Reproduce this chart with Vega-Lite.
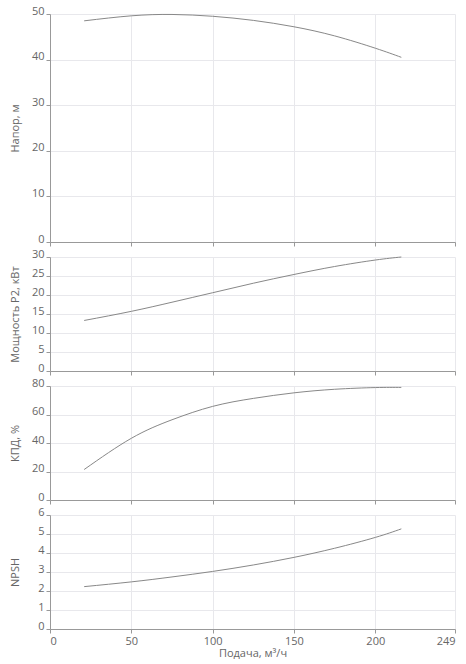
{
  "$schema": "https://vega.github.io/schema/vega-lite/v6.json",
  "padding": {"left": 8, "top": 5, "right": 8, "bottom": 5},
  "bounds": "flush",
  "spacing": 15,
  "data": {"values": [
    {"Q": 21, "H": 48.5, "P": 13.3, "eff": 21.4, "npsh": 2.23},
    {"Q": 50, "H": 49.6, "P": 15.7, "eff": 43.3, "npsh": 2.48},
    {"Q": 75, "H": 49.9, "P": 18.1, "eff": 56.3, "npsh": 2.74},
    {"Q": 100, "H": 49.5, "P": 20.6, "eff": 65.7, "npsh": 3.03},
    {"Q": 125, "H": 48.6, "P": 23.1, "eff": 71.3, "npsh": 3.37},
    {"Q": 150, "H": 47.2, "P": 25.4, "eff": 75.2, "npsh": 3.77},
    {"Q": 175, "H": 45.2, "P": 27.5, "eff": 77.7, "npsh": 4.25},
    {"Q": 200, "H": 42.5, "P": 29.2, "eff": 78.9, "npsh": 4.82},
    {"Q": 216, "H": 40.5, "P": 30.0, "eff": 79.0, "npsh": 5.27}
  ]},
  "config": {
    "view": {"stroke": null},
    "axis": {
      "labelFont": "Open Sans", "titleFont": "Open Sans",
      "labelFontSize": 11, "titleFontSize": 11,
      "labelColor": "#666666", "titleColor": "#666666",
      "titleFontWeight": "normal",
      "domainColor": "#999999", "tickColor": "#999999",
      "gridColor": "#e8e8ec", "tickSize": 4, "labelPadding": 2
    },
    "axisY": {"labelBaseline": "alphabetic", "titleX": -30}
  },
  "vconcat": [
    {
      "width": 405,
      "height": 228,
      "mark": {"type": "line", "interpolate": "natural", "color": "#888888", "strokeWidth": 1},
      "encoding": {
        "x": {"field": "Q", "type": "quantitative", "scale": {"domain": [0, 249], "nice": false},
              "axis": {"values": [0, 50, 100, 150, 200, 249], "labels": false, "title": null}},
        "y": {"field": "H", "type": "quantitative", "scale": {"domain": [0, 50], "nice": false},
              "axis": {"values": [0, 10, 20, 30, 40, 50], "title": "Напор, м"}}
      }
    },
    {
      "width": 405,
      "height": 114,
      "mark": {"type": "line", "interpolate": "natural", "color": "#888888", "strokeWidth": 1},
      "encoding": {
        "x": {"field": "Q", "type": "quantitative", "scale": {"domain": [0, 249], "nice": false},
              "axis": {"values": [0, 50, 100, 150, 200, 249], "labels": false, "title": null}},
        "y": {"field": "P", "type": "quantitative", "scale": {"domain": [0, 30], "nice": false},
              "axis": {"values": [0, 5, 10, 15, 20, 25, 30], "title": "Мощность Р2, кВт"}}
      }
    },
    {
      "width": 405,
      "height": 114,
      "mark": {"type": "line", "interpolate": "natural", "color": "#888888", "strokeWidth": 1},
      "encoding": {
        "x": {"field": "Q", "type": "quantitative", "scale": {"domain": [0, 249], "nice": false},
              "axis": {"values": [0, 50, 100, 150, 200, 249], "labels": false, "title": null}},
        "y": {"field": "eff", "type": "quantitative", "scale": {"domain": [0, 80], "nice": false},
              "axis": {"values": [0, 20, 40, 60, 80], "title": "КПД, %"}}
      }
    },
    {
      "width": 405,
      "height": 114,
      "mark": {"type": "line", "interpolate": "natural", "color": "#888888", "strokeWidth": 1},
      "encoding": {
        "x": {"field": "Q", "type": "quantitative", "scale": {"domain": [0, 249], "nice": false},
              "axis": {"values": [0, 50, 100, 150, 200, 249], "title": "Подача, м³/ч", "titlePadding": 1}},
        "y": {"field": "npsh", "type": "quantitative", "scale": {"domain": [0, 6], "nice": false},
              "axis": {"values": [0, 1, 2, 3, 4, 5, 6], "title": "NPSH"}}
      }
    }
  ]
}
